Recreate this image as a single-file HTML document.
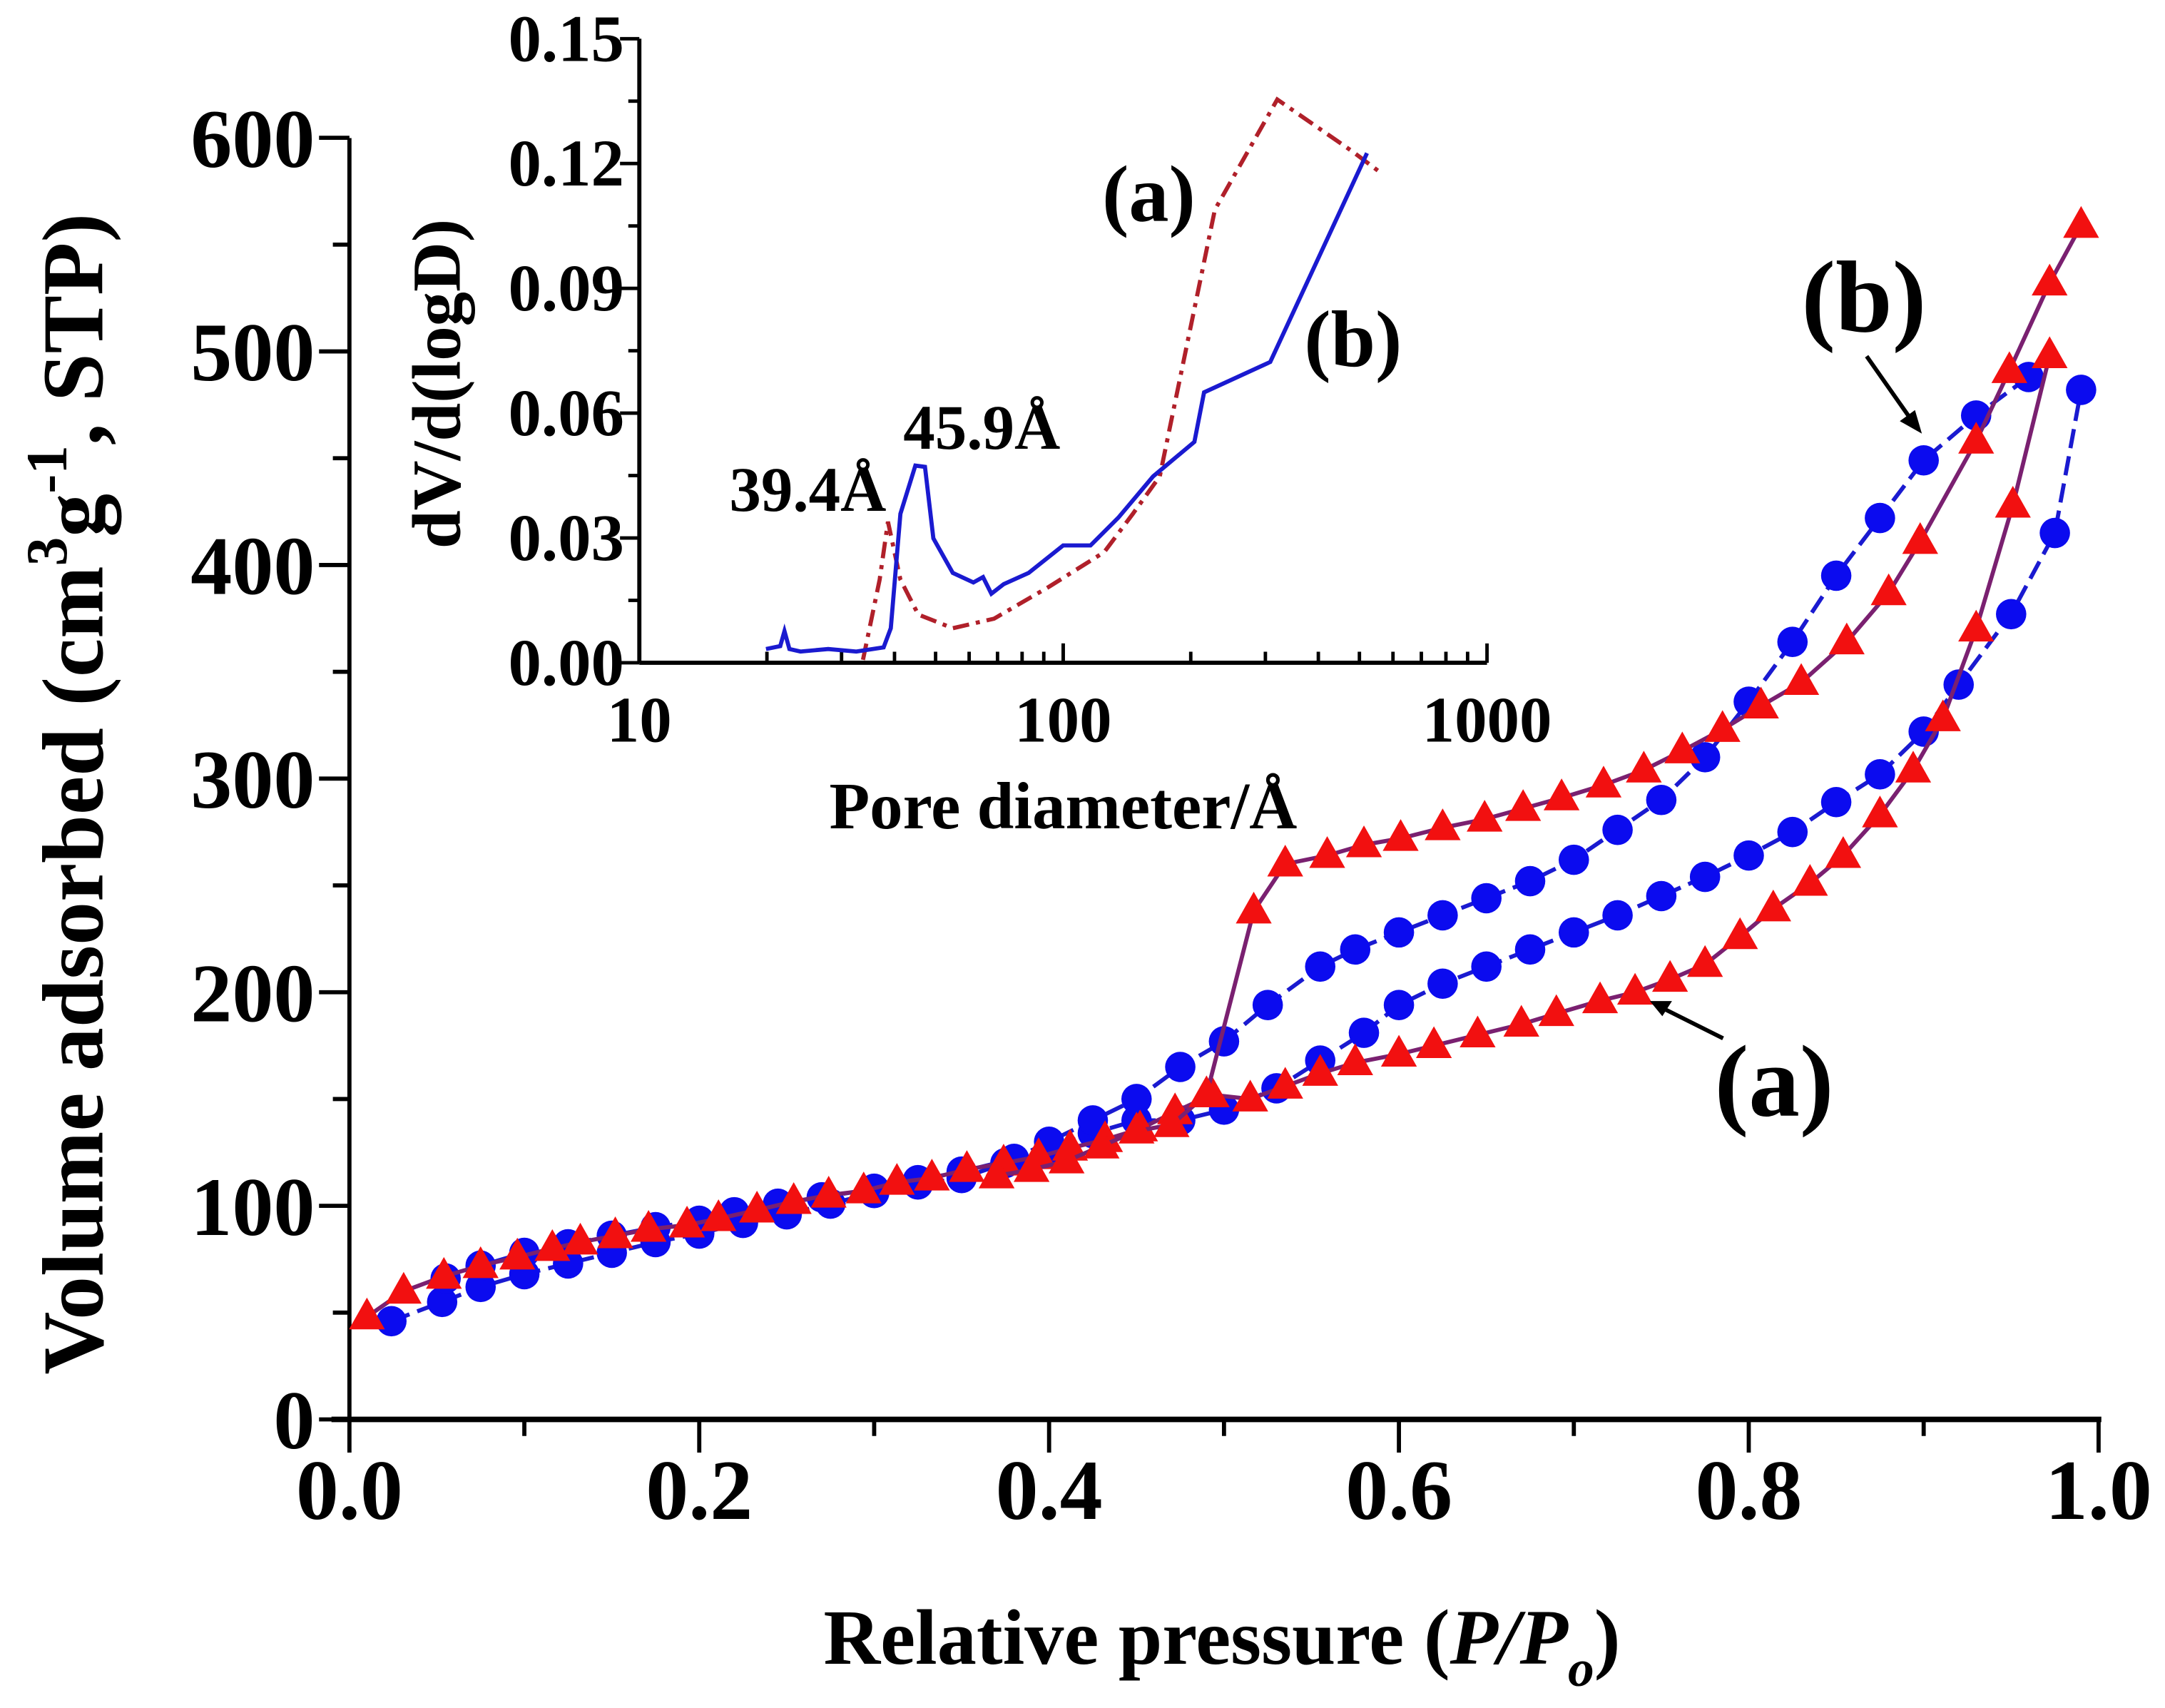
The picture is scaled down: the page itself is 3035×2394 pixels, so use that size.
<!DOCTYPE html>
<html><head><meta charset="utf-8"><style>
html,body{margin:0;padding:0;background:#fff}
svg{display:block}
text{font-family:"Liberation Serif",serif;font-weight:bold;fill:#000}
</style></head><body>
<svg id="chart" width="3035" height="2394" viewBox="0 0 1568 1237" xmlns="http://www.w3.org/2000/svg">
<g id="main"></g>
<g id="inset"></g>
<g id="annot">
<text x="1350" y="240" font-size="74" text-anchor="middle">(b)</text>
<line x1="1352" y1="258" x2="1385" y2="305" stroke="#000" stroke-width="3"/>
<polygon points="1392,314 1376,305 1387,297" fill="#000"/>
<text x="1285" y="808" font-size="74" text-anchor="middle">(a)</text>
<line x1="1248" y1="752" x2="1204" y2="730" stroke="#000" stroke-width="3"/>
<polygon points="1195,725 1211,725 1204,736" fill="#000"/>
<text x="832" y="160" font-size="58" text-anchor="middle">(a)</text>
<text x="980" y="265" font-size="58" text-anchor="middle">(b)</text>
<text x="711" y="325" font-size="46" text-anchor="middle">45.9Å</text>
<text x="585" y="370" font-size="46" text-anchor="middle">39.4Å</text>
</g>
</svg>
<script>
const ns="http://www.w3.org/2000/svg";
// ---- main data ----
const xTicks=[0.0,0.2,0.4,0.6,0.8,1.0];
const xTickLabels=["0.0","0.2","0.4","0.6","0.8","1.0"];
const yTicks=[0,100,200,300,400,500,600];
const aAdsX=[0.01,0.031,0.054,0.075,0.096,0.116,0.132,0.152,0.171,0.193,0.211,0.233,0.254,0.274,0.294,0.313,0.333,0.353,0.374,0.394,0.412,0.432,0.452,0.472,0.493,0.515,0.535,0.555,0.575,0.6,0.62,0.645,0.67,0.69,0.715,0.735,0.755,0.775,0.795,0.814,0.835,0.854,0.875,0.894,0.911,0.93,0.951,0.972];
const aAdsY=[48,60,67,72,76,80,83,86,89,91,94,98,102,105,107,111,113,117,120,123,127,131,136,144,152,150,156,162,167,171,175,180,185,190,196,200,206,213,226,239,251,264,283,304,328,370,428,498];
const aDesX=[0.99,0.972,0.949,0.93,0.898,0.88,0.856,0.83,0.807,0.785,0.762,0.74,0.717,0.693,0.671,0.649,0.625,0.601,0.58,0.559,0.535,0.517,0.49,0.47,0.45,0.43,0.41,0.39,0.37];
const aDesY=[559,532,491,458,411,387,364,345,334,323,313,304,297,291,286,281,277,272,269,264,260,238,152,138,135,128,121,117,114];
const bAdsX=[0.024,0.053,0.075,0.1,0.125,0.15,0.175,0.2,0.225,0.25,0.275,0.3,0.325,0.35,0.375,0.4,0.425,0.45,0.475,0.5,0.53,0.555,0.58,0.6,0.625,0.65,0.675,0.7,0.725,0.75,0.775,0.8,0.825,0.85,0.875,0.9,0.92,0.95,0.975,0.99];
const bAdsY=[46,55,62,68,73,78,83,87,92,96,101,106,110,113,120,127,134,140,140,145,155,168,181,194,204,212,220,228,236,245,254,264,275,289,302,322,344,377,415,482];
const bDesX=[0.96,0.93,0.9,0.875,0.85,0.825,0.8,0.775,0.75,0.725,0.7,0.675,0.65,0.625,0.6,0.575,0.555,0.525,0.5,0.475,0.45,0.425,0.4,0.38,0.35,0.325,0.3,0.27,0.245,0.22,0.2,0.175,0.15,0.125,0.1,0.075,0.055];
const bDesY=[488,470,449,422,395,364,336,310,290,276,262,252,244,236,228,220,212,194,177,165,150,140,130,122,116,112,108,104,101,97,93,90,86,82,78,72,66];
// ---- inset data ----
const inXTicks=[10,100,1000];
const inYTicks=[0,0.03,0.06,0.09,0.12,0.15];
const inYLabels=["0.00","0.03","0.06","0.09","0.12","0.15"];
const inBD=[19.9,21.5,22.0,22.6,24.0,27.9,32.5,37.7,39.2,41.3,44.8,47.2,49.4,54.9,61.4,64.7,67.7,72.4,82.9,100,116,135,163,204,215,308,521];
const inBV=[0.0033,0.004,0.0076,0.0033,0.0027,0.0033,0.0027,0.0037,0.0083,0.0358,0.0474,0.0471,0.0299,0.0216,0.0193,0.0206,0.0166,0.0189,0.0216,0.0282,0.0282,0.0349,0.0448,0.0531,0.065,0.0723,0.1225];
const inAD=[33.7,36.9,38.6,41.3,45.5,54.9,68.7,92.7,125,146,169,228,320,483,561];
const inAV=[0.0007,0.02,0.0339,0.02,0.0116,0.0083,0.0106,0.0183,0.0266,0.0358,0.0448,0.1089,0.1354,0.1228,0.1178];

const X=v=>253+v*1267, Y=v=>1028-v*1.547;
const IX=d=>463+307*Math.log10(d/10), IY=v=>480-v*3013;
function mk(tag,attrs,parent){const e=document.createElementNS(ns,tag);for(const k in attrs)e.setAttribute(k,attrs[k]);parent.appendChild(e);return e;}
const M=document.getElementById('main'), I=document.getElementById('inset');

// main axes
let e=mk('line',{x1:253,y1:100,x2:253,y2:1028,stroke:'#000','stroke-width':3},M);


e=mk('line',{x1:240,y1:1028,x2:1522,y2:1028,stroke:'#000','stroke-width':4},M);


for(let i=0;i<=10;i++){const v=i/10;e=mk('line',{x1:X(v),y1:1028,x2:X(v),y2:1028+(i%2?12:24),stroke:'#000','stroke-width':3},M);

}
xTicks.forEach((v,i)=>{e=mk('text',{x:X(v),y:1100,'font-size':62,'text-anchor':'middle'},M);e.textContent=xTickLabels[i];

});
for(let v=0;v<=600;v+=50){e=mk('line',{x1:253,y1:Y(v),x2:253-(v%100?12:22),y2:Y(v),stroke:'#000','stroke-width':3},M);

}
yTicks.forEach(v=>{e=mk('text',{x:228,y:Y(v)+21,'font-size':60,'text-anchor':'end'},M);e.textContent=String(v);

});
e=mk('text',{x:885,y:1205,'font-size':57,'text-anchor':'middle'},M);
e.innerHTML='Relative pressure (<tspan font-style="italic">P/P</tspan><tspan font-style="italic" font-size="38" dy="16">o</tspan><tspan dy="-16">)</tspan>';


e=mk('text',{x:0,y:0,'font-size':63,'text-anchor':'middle',transform:'translate(74,575) rotate(-90)'},M);
e.innerHTML='Volume adsorbed (cm<tspan font-size="42" dy="-26">3</tspan><tspan dy="26">g</tspan><tspan font-size="42" dy="-26">-1</tspan><tspan dy="26">, STP)</tspan>';



function series(xs,ys,color,dash,kind,name){
  const pts=xs.map((x,i)=>X(x)+','+Y(ys[i])).join(' ');
  let p=mk('polyline',{points:pts,fill:'none',stroke:color,'stroke-width':3,'stroke-dasharray':dash},M);
  
  
  xs.forEach((x,i)=>{const cx=X(x),cy=Y(ys[i]);let m;
    if(kind==='c'){m=mk('circle',{cx:cx,cy:cy,r:11,fill:'#0b0bef'},M);}
    else{m=mk('polygon',{points:`${cx},${cy-14} ${cx-13},${cy+9} ${cx+13},${cy+9}`,fill:'#f21010'},M);}
    
    });
}
series(bAdsX,bAdsY,'#1a1ad0','14 6','c','b-adsorption');
series(bDesX,bDesY,'#1a1ad0','14 6','c','b-desorption');
series(aAdsX,aAdsY,'#7a2070','','t','a-adsorption');
series(aDesX,aDesY,'#7a2070','','t','a-desorption');

// inset axes
e=mk('line',{x1:463,y1:28,x2:463,y2:480,stroke:'#000','stroke-width':3},I);


e=mk('line',{x1:463,y1:480,x2:1077,y2:480,stroke:'#000','stroke-width':3},I);


for(let k=0;k<=10;k++){const v=k*0.015;e=mk('line',{x1:463,y1:IY(v),x2:463-(k%2?8:14),y2:IY(v),stroke:'#000','stroke-width':2.5},I);

}
inYTicks.forEach((v,i)=>{e=mk('text',{x:452,y:IY(v)+16,'font-size':48,'text-anchor':'end'},I);e.textContent=inYLabels[i];

});
for(let dec=10;dec<1000;dec*=10)for(let m=1;m<=10;m++){const d=dec*m;e=mk('line',{x1:IX(d),y1:480,x2:IX(d),y2:480-(m===1||m===10?14:8),stroke:'#000','stroke-width':2.5},I);

}
inXTicks.forEach(d=>{e=mk('text',{x:IX(d),y:537,'font-size':47,'text-anchor':'middle'},I);e.textContent=String(d);

});
e=mk('text',{x:770,y:600,'font-size':48,'text-anchor':'middle'},I);e.textContent='Pore diameter/Å';


e=mk('text',{x:0,y:0,'font-size':50,'text-anchor':'middle',transform:'translate(333,278) rotate(-90)'},I);e.textContent='dV/d(logD)';


e=mk('polyline',{points:inAD.map((d,i)=>IX(d)+','+IY(inAV[i])).join(' '),fill:'none',stroke:'#b0202a','stroke-width':3,'stroke-dasharray':'12 5 3 5'},I);


e=mk('polyline',{points:inBD.map((d,i)=>IX(d)+','+IY(inBV[i])).join(' '),fill:'none',stroke:'#1a1ad0','stroke-width':3},I);


</script>
</body></html>
